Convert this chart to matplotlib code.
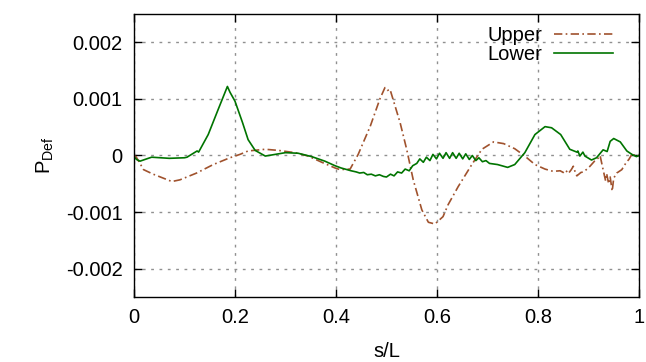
import numpy as np
import matplotlib
matplotlib.use("Agg")
import matplotlib.pyplot as plt

plt.rcParams['font.family'] = ['Liberation Sans', 'DejaVu Sans']
plt.rcParams['mathtext.fontset'] = 'custom'
plt.rcParams['mathtext.rm'] = 'Liberation Sans'
plt.rcParams['axes.unicode_minus'] = False

# upper surface (values in 1e-3)
s_up = [0.0, 0.004, 0.019, 0.038, 0.058, 0.075, 0.091, 0.124, 0.157, 0.19,
        0.21, 0.226, 0.26, 0.286, 0.319, 0.345, 0.372, 0.398, 0.408, 0.428,
        0.444, 0.468, 0.487, 0.497, 0.502, 0.507, 0.527, 0.54, 0.553, 0.57,
        0.583, 0.596, 0.612, 0.622, 0.642, 0.669, 0.689, 0.712, 0.732, 0.754,
        0.774, 0.794, 0.814, 0.83, 0.844, 0.85, 0.855, 0.86, 0.866, 0.87,
        0.874, 0.877, 0.885, 0.89, 0.9, 0.912, 0.92, 0.923, 0.929, 0.934,
        0.936, 0.94, 0.943, 0.947, 0.95, 0.956, 0.966, 0.975, 0.98, 0.988,
        0.992, 1.0]
p_up = [0.0, -0.02, -0.25, -0.33, -0.40, -0.46, -0.43, -0.31, -0.16, -0.04,
        0.02, 0.08, 0.11, 0.09, 0.05, -0.01, -0.12, -0.22, -0.25, -0.24,
        0.02, 0.52, 1.0, 1.2, 1.15, 1.17, 0.58, 0.11, -0.43, -0.96,
        -1.18, -1.21, -1.08, -0.87, -0.55, -0.16, 0.11, 0.24, 0.21, 0.12,
        -0.01, -0.16, -0.24, -0.28, -0.27, -0.30, -0.26, -0.32, -0.25, -0.19,
        -0.30, -0.36, -0.30, -0.29, -0.22, -0.10, -0.04, 0.0, -0.25, -0.45,
        -0.32, -0.50, -0.38, -0.63, -0.40, -0.31, -0.25, -0.12, -0.07, 0.05,
        -0.02, 0.0]

# lower surface (values in 1e-3)
s_lo = [0.0, 0.005, 0.012, 0.025, 0.035, 0.07, 0.1, 0.105, 0.125, 0.128,
        0.147, 0.167, 0.185, 0.19, 0.2, 0.215, 0.226, 0.24, 0.26, 0.3,
        0.325, 0.352, 0.378, 0.398, 0.41, 0.418, 0.43, 0.44, 0.447, 0.455,
        0.462, 0.47, 0.478, 0.486, 0.494, 0.5, 0.508, 0.515, 0.522, 0.53,
        0.537, 0.545, 0.552, 0.56, 0.566, 0.573, 0.579, 0.586, 0.592, 0.599,
        0.605, 0.612, 0.618, 0.625, 0.631, 0.638, 0.644, 0.651, 0.657, 0.664,
        0.67, 0.677, 0.683, 0.69, 0.697, 0.704, 0.72, 0.74, 0.754, 0.774,
        0.794, 0.814, 0.827, 0.845, 0.863, 0.877, 0.879, 0.883, 0.889, 0.893,
        0.906, 0.916, 0.929, 0.937, 0.943, 0.95, 0.963, 0.976, 0.986, 0.995,
        1.0]
p_lo = [-0.02, -0.07, -0.10, -0.06, -0.03, -0.05, -0.04, -0.03, 0.08, 0.06,
        0.37, 0.82, 1.22, 1.12, 0.96, 0.58, 0.28, 0.09, -0.01, 0.05,
        0.04, -0.02, -0.10, -0.18, -0.22, -0.24, -0.27, -0.29, -0.31, -0.30,
        -0.34, -0.33, -0.36, -0.34, -0.37, -0.38, -0.33, -0.36, -0.29, -0.31,
        -0.24, -0.27, -0.18, -0.14, -0.06, -0.12, -0.03, -0.09, 0.02, -0.06,
        0.04, -0.05, 0.05, -0.05, 0.05, -0.05, 0.04, -0.06, 0.03, -0.07,
        0.00, -0.09, -0.04, -0.11, -0.09, -0.14, -0.16, -0.21, -0.16, 0.05,
        0.37, 0.51, 0.49, 0.37, 0.11, 0.06, 0.08, -0.01, 0.06, -0.01,
        -0.08, -0.04, 0.10, 0.07, 0.25, 0.30, 0.24, 0.08, 0.02, -0.02,
        0.0]

yticks = [-0.002, -0.001, 0, 0.001, 0.002]
ylabels = ["-0.002", "-0.001", "0", "0.001", "0.002"]
xticks = [0, 0.2, 0.4, 0.6, 0.8, 1]
xlabels = ["0", "0.2", "0.4", "0.6", "0.8", "1"]

fig = plt.figure(figsize=(6.46, 3.62), dpi=100)
ax = fig.add_axes([0.2074, 0.1796, 0.7817, 0.7817])

ax.plot(s_up, np.array(p_up) * 1e-3, color="#a0522d", lw=1.2,
        dashes=(5, 2, 1, 2), label="Upper")
ax.plot(s_lo, np.array(p_lo) * 1e-3, color="#007400", lw=1.2, label="Lower")

ax.set_xlim(0, 1)
ax.set_ylim(-0.0025, 0.0025)
ax.set_xticks(xticks)
ax.set_xticklabels(xlabels)
ax.set_yticks(yticks)
ax.set_yticklabels(ylabels)
ax.tick_params(direction="in", top=True, right=True, length=6, width=1,
               labelsize=14.5, pad=8)
ax.grid(True, color="#909090", lw=1, linestyle=(0, (2, 4)))
for sp in ax.spines.values():
    sp.set_linewidth(1)

ax.set_xlabel("s/L", fontsize=14.5, labelpad=11)
ax.set_ylabel(r"P$_{\rm Def}$", fontsize=14.5, labelpad=7)

ax.legend(loc="upper right", bbox_to_anchor=(0.948, 0.958), frameon=False,
          markerfirst=False, fontsize=14.5, borderpad=0, labelspacing=0,
          handlelength=2.9, handletextpad=0.6, borderaxespad=0)

fig.savefig("out.png", dpi=100)
